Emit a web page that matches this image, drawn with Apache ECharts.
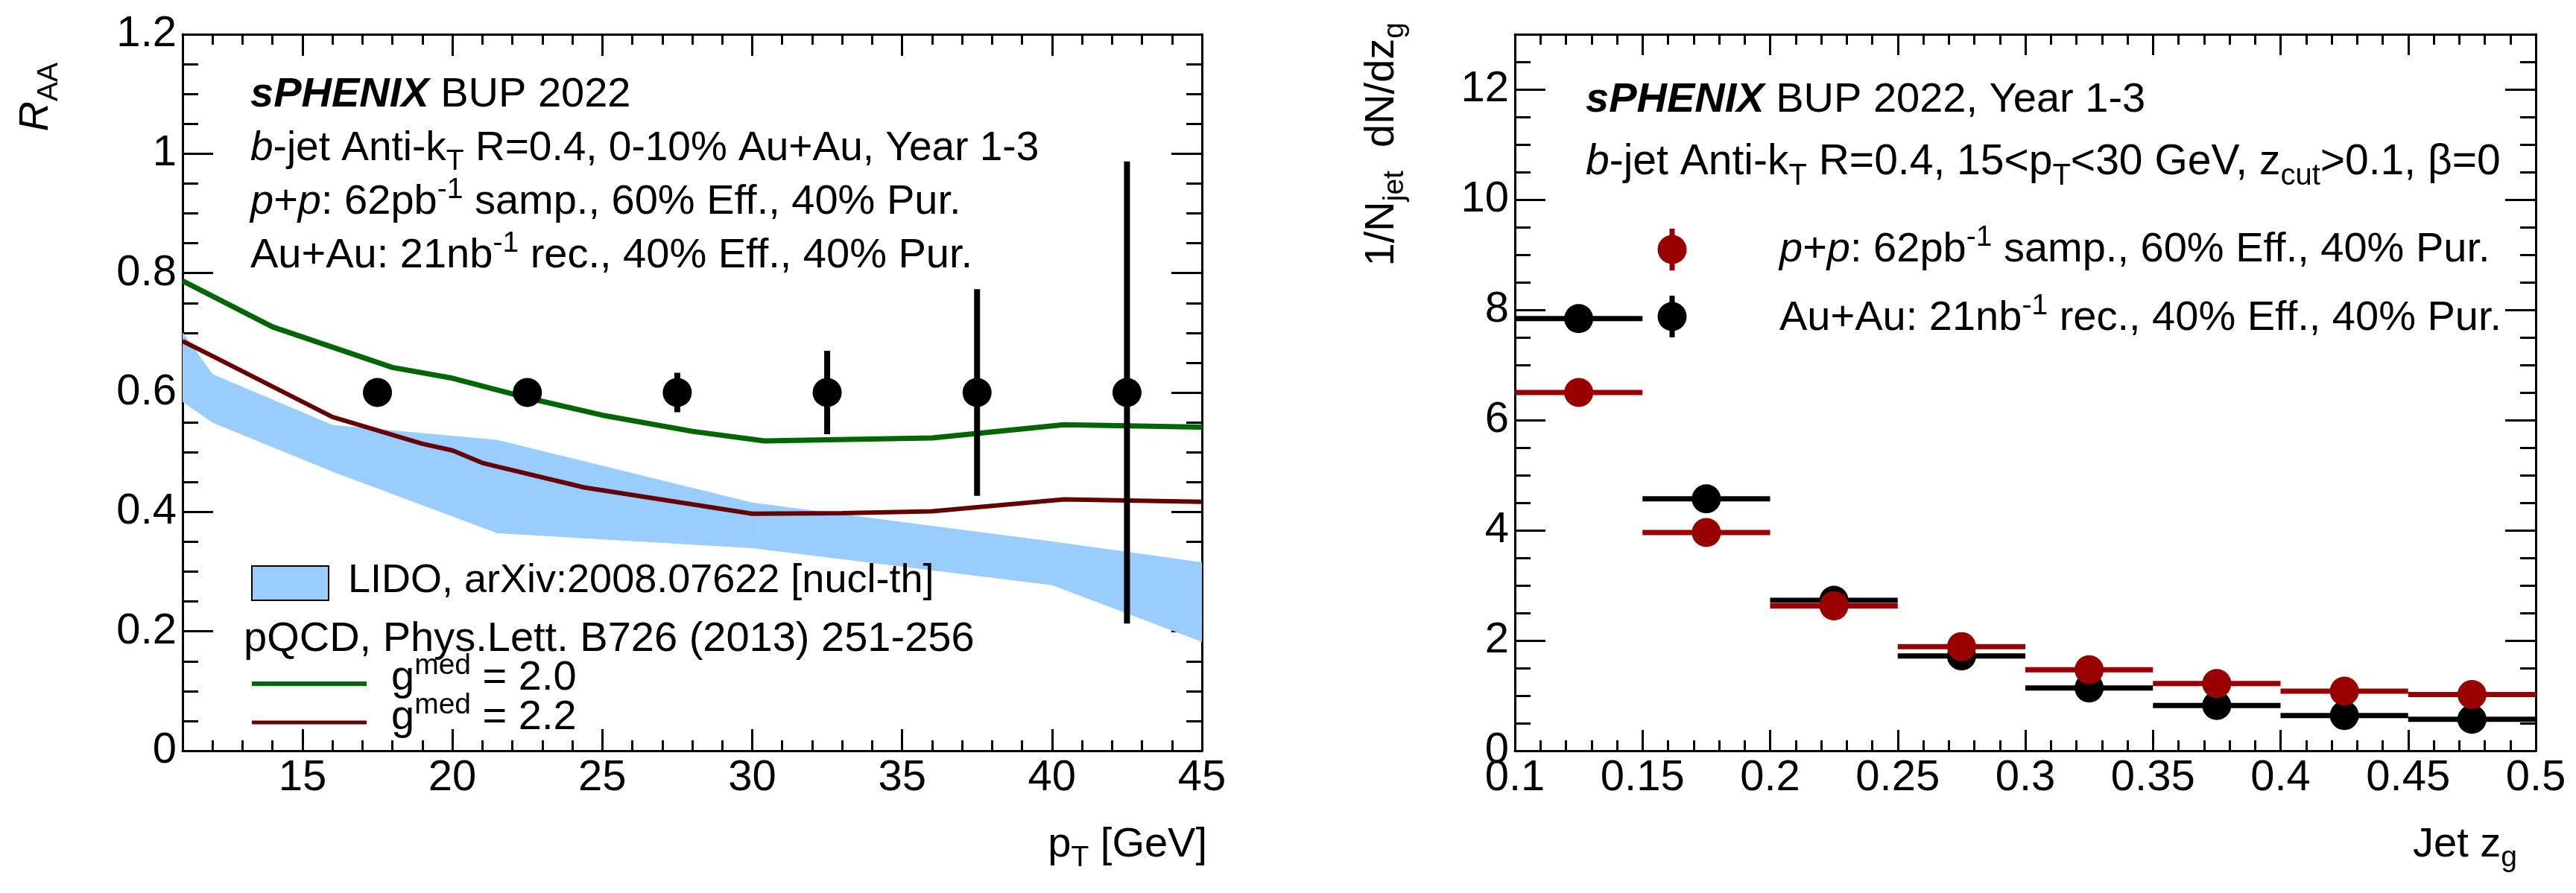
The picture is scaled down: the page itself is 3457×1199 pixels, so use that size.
<!DOCTYPE html>
<html>
<head>
<meta charset="utf-8">
<title>sPHENIX b-jet RAA and zg</title>
<script src="https://cdn.jsdelivr.net/npm/echarts@6/dist/echarts.min.js"></script>
<style>
html, body { margin: 0; padding: 0; background: #fff; }
#main { width: 3457px; height: 1199px; }
</style>
</head>
<body>
<div id="main"></div>
<script>
// ---- left panel: b-jet R_AA vs pT ----
const ptBins = [17.5, 22.5, 27.5, 32.5, 37.5, 42.5];
const raaValues = [0.6, 0.6, 0.6, 0.6, 0.6, 0.6];
const raaErrors = [0.015, 0.02, 0.033, 0.07, 0.173, 0.387];

// LIDO band (lower / upper edge)
const lidoPt = [11, 12, 16, 21.5, 30, 40, 45];
const lidoLow = [0.585, 0.55, 0.468, 0.365, 0.34, 0.278, 0.183];
const lidoHigh = [0.70, 0.63, 0.545, 0.52, 0.415, 0.35, 0.315];

// pQCD curves
const g20Pt = [11, 14, 18, 20, 22.5, 25, 28, 30.4, 36, 40.4, 45];
const g20Raa = [0.787, 0.71, 0.642, 0.624, 0.591, 0.562, 0.535, 0.519, 0.524, 0.546, 0.542];
const g22Pt = [11, 12, 16, 19, 20, 21, 24.4, 30, 33, 36, 40.4, 45];
const g22Raa = [0.686, 0.661, 0.559, 0.514, 0.503, 0.482, 0.441, 0.397, 0.398, 0.401, 0.421, 0.417];

// ---- right panel: jet zg ----
const zgBins = [0.125, 0.175, 0.225, 0.275, 0.325, 0.375, 0.425, 0.475];
const zgHalfWidth = 0.025;
const ppValues = [6.50, 3.96, 2.63, 1.89, 1.47, 1.22, 1.08, 1.02];
const auauValues = [7.84, 4.57, 2.73, 1.72, 1.14, 0.82, 0.64, 0.57];

// tick labels
const ptTicks = [15, 20, 25, 30, 35, 40, 45];
const raaTicks = [0, 0.2, 0.4, 0.6, 0.8, 1, 1.2];
const zgTicks = [0.1, 0.15, 0.2, 0.25, 0.3, 0.35, 0.4, 0.45, 0.5];
const dndzTicks = [0, 2, 4, 6, 8, 10, 12];

// minor ticks between the labelled ones
function minor(from, to, step, major) {
  const out = [];
  for (let v = from; v <= to + 1e-9; v += step) {
    const r = Math.round(v * 1e6) / 1e6;
    const k = r / major;
    if (Math.abs(k - Math.round(k)) > 1e-6) out.push(r);
  }
  return out;
}
const ptMinor = minor(12, 44, 1, 5);
const raaMinor = minor(0.05, 1.15, 0.05, 0.2);
const zgMinor = minor(0.11, 0.49, 0.01, 0.05);
const dndzMinor = minor(0.5, 12.5, 0.5, 2);

const FONT = '"Liberation Sans", Arial, Helvetica, sans-serif';
const BLUE = '#99ccff';
const GREEN = '#006600';
const DARKRED = '#660000';
const RED = '#990000';

// one axis of a frame side; aux axes only carry the minor ticks
function axis(gridIndex, position, min, max, ticks, len, main, labels) {
  const isX = position === 'bottom' || position === 'top';
  return {
    type: 'value', gridIndex, position, min, max,
    splitLine: { show: false },
    axisPointer: { show: false },
    axisLine: { show: main, onZero: false, lineStyle: { color: '#000', width: 3 } },
    axisTick: { show: true, inside: true, length: len, customValues: ticks,
      lineStyle: { color: '#000', width: 3 } },
    minorTick: { show: false },
    axisLabel: labels ? {
      show: true, customValues: ticks, color: '#000',
      fontFamily: FONT, fontSize: 58, margin: 8
    } : { show: false }
  };
}

// text with sub/superscripts, anchored at baseline
function label(x, y, markup, fs, align, rotation) {
  const L = fs * 2;
  const s = Math.round(fs * 0.7);
  const base = { fontFamily: FONT, fill: '#000', lineHeight: L };
  return {
    type: 'text', x, y, rotation: rotation || 0, silent: true, z: 100,
    style: {
      text: markup, x: 0, y: -(L / 2 + 0.3465 * fs),
      align: align || 'left', verticalAlign: 'top',
      fontFamily: FONT, fontSize: fs, fill: '#000',
      rich: {
        n: Object.assign({ fontSize: fs }, base),
        i: Object.assign({ fontSize: fs, fontStyle: 'italic' }, base),
        b: Object.assign({ fontSize: fs, fontStyle: 'italic', fontWeight: 'bold' }, base),
        sup: Object.assign({ fontSize: s, height: L - 0.57 * fs, verticalAlign: 'top' }, base),
        sub: Object.assign({ fontSize: s, height: L - 0.64 * fs, verticalAlign: 'bottom' }, base)
      }
    }
  };
}

// band piece between two neighbouring pT points
function bandPiece(params, api) {
  const a1 = api.coord([api.value(0), api.value(1)]);
  const a2 = api.coord([api.value(0), api.value(2)]);
  const b2 = api.coord([api.value(3), api.value(5)]);
  const b1 = api.coord([api.value(3), api.value(4)]);
  return { type: 'polygon', shape: { points: [a1, a2, b2, b1] },
    style: { fill: BLUE, stroke: BLUE, lineWidth: 1 } };
}
function vErr(color, width) {
  return function (params, api) {
    const x = api.value(0), y = api.value(1), e = api.value(2);
    const a = api.coord([x, y - e]), b = api.coord([x, y + e]);
    return { type: 'line', shape: { x1: a[0], y1: a[1], x2: b[0], y2: b[1] },
      style: { stroke: color, lineWidth: width } };
  };
}
function hBin(color, width) {
  return function (params, api) {
    const x = api.value(0), y = api.value(1);
    const a = api.coord([x - zgHalfWidth, y]), b = api.coord([x + zgHalfWidth, y]);
    return { type: 'line', shape: { x1: a[0], y1: a[1], x2: b[0], y2: b[1] },
      style: { stroke: color, lineWidth: width } };
  };
}

const pairs = (xs, ys) => xs.map((x, i) => [x, ys[i]]);
const bandData = lidoPt.slice(0, -1).map((x, i) =>
  [x, lidoLow[i], lidoHigh[i], lidoPt[i + 1], lidoLow[i + 1], lidoHigh[i + 1]]);

const chart = echarts.init(document.getElementById('main'));
chart.setOption({
  animation: false,
  backgroundColor: '#fff',
  grid: [
    { left: 245, top: 46, width: 1368, height: 962, containLabel: false, outerBoundsMode: 'none' },
    { left: 2033, top: 46, width: 1370, height: 962, containLabel: false, outerBoundsMode: 'none' }
  ],
  xAxis: [
    axis(0, 'bottom', 11, 45, ptTicks, 29, true, true),
    axis(0, 'bottom', 11, 45, ptMinor, 14, false, false),
    axis(0, 'top', 11, 45, ptTicks, 29, true, false),
    axis(0, 'top', 11, 45, ptMinor, 14, false, false),
    axis(1, 'bottom', 0.1, 0.5, zgTicks, 28, true, true),
    axis(1, 'bottom', 0.1, 0.5, zgMinor, 14, false, false),
    axis(1, 'top', 0.1, 0.5, zgTicks, 28, true, false),
    axis(1, 'top', 0.1, 0.5, zgMinor, 14, false, false)
  ],
  yAxis: [
    axis(0, 'left', 0, 1.2, raaTicks, 41, true, true),
    axis(0, 'left', 0, 1.2, raaMinor, 21, false, false),
    axis(0, 'right', 0, 1.2, raaTicks, 41, true, false),
    axis(0, 'right', 0, 1.2, raaMinor, 21, false, false),
    axis(1, 'left', 0, 13, dndzTicks, 41, true, true),
    axis(1, 'left', 0, 13, dndzMinor, 21, false, false),
    axis(1, 'right', 0, 13, dndzTicks, 41, true, false),
    axis(1, 'right', 0, 13, dndzMinor, 21, false, false)
  ],
  series: [
    // LIDO band
    { type: 'custom', xAxisIndex: 0, yAxisIndex: 0, silent: true, z: 1,
      data: bandData, renderItem: bandPiece, clip: true },
    { type: 'line', xAxisIndex: 0, yAxisIndex: 0, silent: true, z: 3, symbol: 'none',
      data: pairs(g20Pt, g20Raa), lineStyle: { color: GREEN, width: 7, opacity: 1 } },
    { type: 'line', xAxisIndex: 0, yAxisIndex: 0, silent: true, z: 3, symbol: 'none',
      data: pairs(g22Pt, g22Raa), lineStyle: { color: DARKRED, width: 6, opacity: 1 } },
    { type: 'custom', xAxisIndex: 0, yAxisIndex: 0, silent: true, z: 4,
      data: ptBins.map((x, i) => [x, raaValues[i], raaErrors[i]]), renderItem: vErr('#000', 8) },
    { type: 'scatter', xAxisIndex: 0, yAxisIndex: 0, silent: true, z: 5,
      data: pairs(ptBins, raaValues), symbol: 'circle', symbolSize: 39,
      itemStyle: { color: '#000', opacity: 1 } },

    // zg: Au+Au then p+p on top
    { type: 'custom', xAxisIndex: 4, yAxisIndex: 4, silent: true, z: 3,
      data: pairs(zgBins, auauValues), renderItem: hBin('#000', 7) },
    { type: 'scatter', xAxisIndex: 4, yAxisIndex: 4, silent: true, z: 4,
      data: pairs(zgBins, auauValues), symbol: 'circle', symbolSize: 39,
      itemStyle: { color: '#000', opacity: 1 } },
    { type: 'custom', xAxisIndex: 4, yAxisIndex: 4, silent: true, z: 5,
      data: pairs(zgBins, ppValues), renderItem: hBin(RED, 7) },
    { type: 'scatter', xAxisIndex: 4, yAxisIndex: 4, silent: true, z: 6,
      data: pairs(zgBins, ppValues), symbol: 'circle', symbolSize: 39,
      itemStyle: { color: RED, opacity: 1 } }
  ],
  graphic: { elements: [
    // axis titles
    label(68, 84, '{i|R}{sub|AA}', 56, 'right', Math.PI / 2),
    label(1620, 1154, '{n|p}{sub|T}{n| [GeV]}', 56, 'right'),
    label(1874, 30, '{n|1/N}{sub|jet}{n|  dN/dz}{sub|g}', 56, 'right', Math.PI / 2),
    label(3378, 1154, '{n|Jet z}{sub|g}', 56, 'right'),

    // left header
    label(336, 147, '{b|sPHENIX}{n| BUP 2022}', 56),
    label(336, 219, '{i|b}{n|-jet Anti-k}{sub|T}{n| R=0.4, 0-10% Au+Au, Year 1-3}', 55),
    label(336, 291, '{i|p}{n|+}{i|p}{n|: 62pb}{sup|-1}{n| samp., 60% Eff., 40% Pur.}', 56),
    label(336, 363, '{n|Au+Au: 21nb}{sup|-1}{n| rec., 40% Eff., 40% Pur.}', 56),

    // left legend
    { type: 'rect', silent: true, z: 100, shape: { x: 338, y: 760, width: 103, height: 46 },
      style: { fill: BLUE, stroke: '#000', lineWidth: 2 } },
    label(467, 799, '{n|LIDO, arXiv:2008.07622 [nucl-th]}', 54),
    label(327, 878, '{n|pQCD, Phys.Lett. B726 (2013) 251-256}', 56),
    { type: 'line', silent: true, z: 100, shape: { x1: 338, y1: 918, x2: 492, y2: 918 },
      style: { stroke: GREEN, lineWidth: 6 } },
    label(525, 930, '{n|g}{sup|med}{n| = 2.0}', 56),
    { type: 'line', silent: true, z: 100, shape: { x1: 338, y1: 970, x2: 492, y2: 970 },
      style: { stroke: DARKRED, lineWidth: 5 } },
    label(525, 983, '{n|g}{sup|med}{n| = 2.2}', 56),

    // right header
    label(2128, 154, '{b|sPHENIX}{n| BUP 2022, Year 1-3}', 56),
    label(2128, 238, '{i|b}{n|-jet Anti-k}{sub|T}{n| R=0.4, 15<p}{sub|T}{n|<30 GeV, z}{sub|cut}{n|>0.1, β=0}', 57),

    // right legend
    { type: 'line', silent: true, z: 100, shape: { x1: 2244, y1: 307, x2: 2244, y2: 363 },
      style: { stroke: RED, lineWidth: 7 } },
    { type: 'circle', silent: true, z: 100, shape: { cx: 2244, cy: 335, r: 19.5 }, style: { fill: RED } },
    label(2388, 355, '{i|p}{n|+}{i|p}{n|: 62pb}{sup|-1}{n| samp., 60% Eff., 40% Pur.}', 56),
    { type: 'line', silent: true, z: 100, shape: { x1: 2244, y1: 397, x2: 2244, y2: 453 },
      style: { stroke: '#000', lineWidth: 7 } },
    { type: 'circle', silent: true, z: 100, shape: { cx: 2244, cy: 425, r: 19.5 }, style: { fill: '#000' } },
    label(2388, 447, '{n|Au+Au: 21nb}{sup|-1}{n| rec., 40% Eff., 40% Pur.}', 56)
  ] }
});
</script>
</body>
</html>
